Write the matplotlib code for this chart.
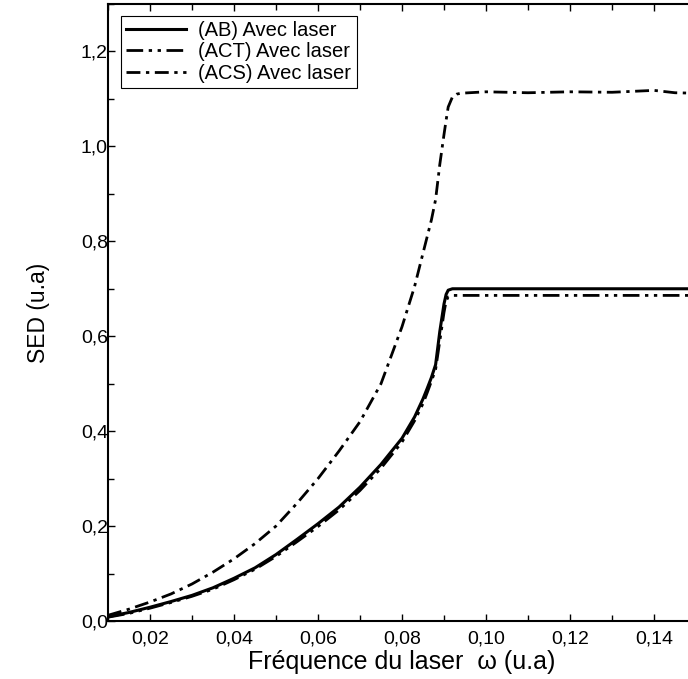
import matplotlib
matplotlib.use("Agg")
import matplotlib.pyplot as plt
from matplotlib.ticker import MultipleLocator

# frequence du laser (u.a)
w = [0.010, 0.015, 0.020, 0.025, 0.030, 0.035, 0.040, 0.045, 0.050, 0.055,
     0.060, 0.065, 0.070, 0.075, 0.080, 0.083, 0.085, 0.086, 0.087, 0.088,
     0.089, 0.090, 0.0905, 0.091, 0.092, 0.093, 0.094, 0.100, 0.110, 0.120,
     0.130, 0.140, 0.145, 0.150]

sed_ab = [0.009, 0.018, 0.029, 0.041, 0.054, 0.070, 0.090, 0.112, 0.140, 0.172,
          0.205, 0.240, 0.282, 0.330, 0.385, 0.430, 0.468, 0.490, 0.513, 0.540,
          0.610, 0.668, 0.688, 0.697, 0.700, 0.700, 0.700, 0.700, 0.700, 0.700,
          0.700, 0.700, 0.700, 0.700]

sed_act = [0.008, 0.016, 0.027, 0.039, 0.052, 0.067, 0.087, 0.109, 0.136, 0.167,
           0.199, 0.234, 0.275, 0.322, 0.377, 0.422, 0.458, 0.481, 0.505, 0.530,
           0.590, 0.650, 0.674, 0.683, 0.686, 0.686, 0.686, 0.686, 0.686, 0.686,
           0.686, 0.686, 0.686, 0.686]

sed_acs = [0.012, 0.025, 0.040, 0.057, 0.078, 0.103, 0.131, 0.163, 0.200, 0.248,
           0.300, 0.358, 0.420, 0.500, 0.620, 0.705, 0.775, 0.810, 0.845, 0.888,
           0.962, 1.025, 1.055, 1.083, 1.104, 1.110, 1.112, 1.115, 1.113, 1.115,
           1.114, 1.118, 1.113, 1.112]

xticks = [0.02, 0.04, 0.06, 0.08, 0.10, 0.12, 0.14]
xlabels = ["0,02", "0,04", "0,06", "0,08", "0,10", "0,12", "0,14"]
yticks = [0.0, 0.2, 0.4, 0.6, 0.8, 1.0, 1.2]
ylabels = ["0,0", "0,2", "0,4", "0,6", "0,8", "1,0", "1,2"]

plt.rcParams['font.family'] = ['Liberation Sans', 'DejaVu Sans']

fig = plt.figure(figsize=(6.88, 6.79), dpi=100)
ax = fig.add_axes([108/688, 58/679, 588/688, 617/679])

ax.plot(w, sed_ab, color='black', lw=2.2, ls='-', label='(AB) Avec laser')
ax.plot(w, sed_act, color='black', lw=2.0, ls=(0, (6, 2, 1.2, 2, 1.2, 2)),
        label='(ACT) Avec laser')
ax.plot(w, sed_acs, color='black', lw=2.0, ls=(0, (5, 2, 1.2, 2)),
        label='(ACS) Avec laser')

ax.set_xlim(0.01, 0.15)
ax.set_ylim(0, 1.3)
ax.set_xticks(xticks)
ax.set_xticklabels(xlabels)
ax.set_yticks(yticks)
ax.set_yticklabels(ylabels)
ax.xaxis.set_minor_locator(MultipleLocator(0.01))
ax.yaxis.set_minor_locator(MultipleLocator(0.1))
ax.tick_params(which='both', direction='in', top=True, right=True,
               labelsize=14, width=1)
ax.tick_params(which='major', length=5)
ax.tick_params(which='minor', length=4)
ax.tick_params(axis='y', pad=0)
ax.tick_params(axis='x', pad=7)
for s in ax.spines.values():
    s.set_linewidth(1.5)

ax.set_xlabel("Fréquence du laser  ω (u.a)", fontsize=18, labelpad=2)
ax.set_ylabel("SED (u.a)", fontsize=16.5, labelpad=22)

leg = ax.legend(loc='upper left', bbox_to_anchor=(0.022, 0.981), fontsize=14.5,
                frameon=True, fancybox=False, edgecolor='black', framealpha=1,
                handlelength=3.0, handletextpad=0.6, labelspacing=0.12,
                borderpad=0.25, borderaxespad=0)
leg.get_frame().set_linewidth(0.8)

fig.savefig("out.png", dpi=100)
